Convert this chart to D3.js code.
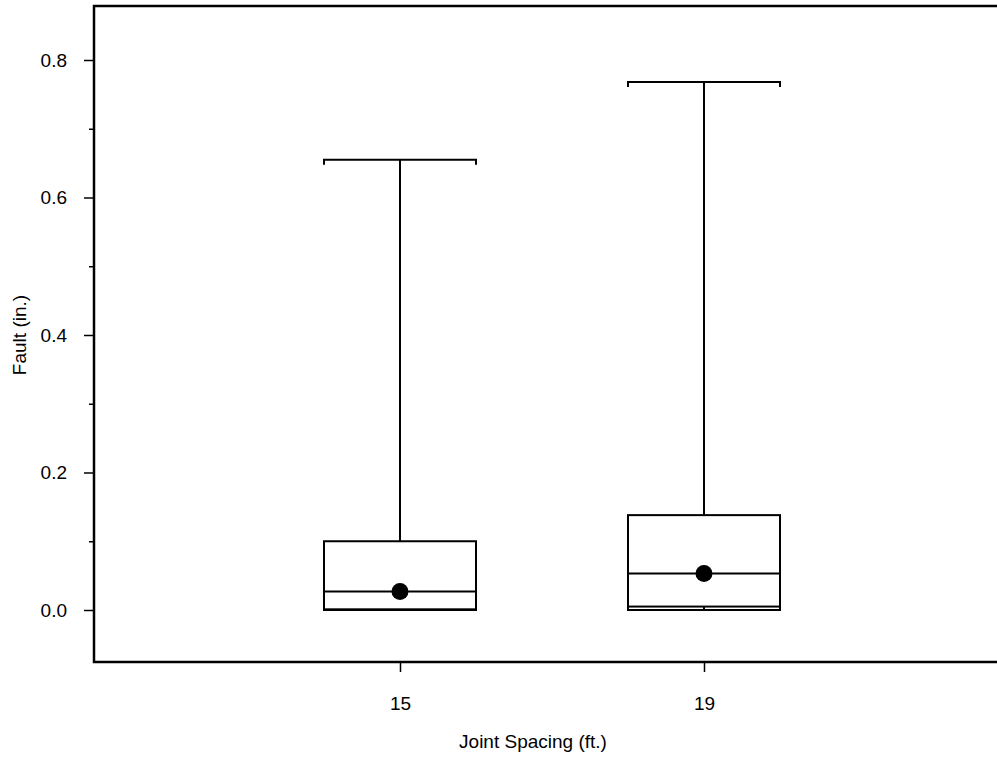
<!DOCTYPE html>
<html>
<head>
<meta charset="utf-8">
<script src="https://cdn.jsdelivr.net/npm/d3@7"></script>
<style>
  html, body { margin: 0; padding: 0; background: #fff; }
  svg { display: block; }
  text { font-family: "Liberation Sans", Arial, sans-serif; fill: #000; }
</style>
</head>
<body>
<svg id="chart" width="997" height="757"></svg>
<script>
const categories = ["15", "19"];
const whiskerMax = [0.655, 0.768];
const q3Values = [0.100, 0.138];
const medianValues = [0.027, 0.053];
const meanValues = [0.027, 0.053];
const q1Values = [0.001, 0.005];
const whiskerMin = [0.0, 0.0];
const yTicks = [0.0, 0.2, 0.4, 0.6, 0.8];
const yMinorTicks = [0.1, 0.3, 0.5, 0.7];

const svg = d3.select("#chart");
const frameLeft = 94, frameRight = 997, frameTop = 6, frameBottom = 662;
const fontSize = 19;

const y = d3.scaleLinear().domain([0, 0.8]).range([610, 60]);
const x = d3.scaleLinear().domain([0, 1]).range([400, 704]);
const boxHalf = 76;

svg.append("path")
  .attr("d", `M${frameRight},${frameTop}H${frameLeft}V${frameBottom}H${frameRight}`)
  .attr("fill", "none").attr("stroke", "#000").attr("stroke-width", 2.5);

const yAxis = d3.axisLeft(y).tickValues(yTicks).tickFormat(d3.format(".1f"))
  .tickSize(10).tickPadding(17);
const gy = svg.append("g").attr("transform", `translate(${frameLeft},0)`).call(yAxis);
gy.attr("font-size", fontSize).attr("font-family", "Liberation Sans, Arial, sans-serif");
gy.select(".domain").remove();
gy.selectAll(".tick line").attr("stroke", "#000").attr("stroke-width", 1.5);

const yMinor = d3.axisLeft(y).tickValues(yMinorTicks).tickFormat("").tickSize(5);
const gym = svg.append("g").attr("transform", `translate(${frameLeft},0)`).call(yMinor);
gym.select(".domain").remove();
gym.selectAll(".tick line").attr("stroke", "#000").attr("stroke-width", 1.5);

const xAxis = d3.axisBottom(x).tickValues([0, 1]).tickFormat((d, i) => categories[i])
  .tickSize(10).tickPadding(25);
const gx = svg.append("g").attr("transform", `translate(0,${frameBottom})`).call(xAxis);
gx.attr("font-size", fontSize).attr("font-family", "Liberation Sans, Arial, sans-serif");
gx.select(".domain").remove();
gx.selectAll(".tick line").attr("stroke", "#000").attr("stroke-width", 1.5);

svg.append("text").attr("x", 533).attr("y", 748).attr("text-anchor", "middle")
  .attr("font-size", fontSize).text("Joint Spacing (ft.)");
svg.append("text").attr("transform", `translate(26,335) rotate(-90)`)
  .attr("text-anchor", "middle").attr("font-size", fontSize).text("Fault (in.)");

const g = svg.append("g").attr("stroke", "#000").attr("fill", "none");
categories.forEach((c, i) => {
  const cx = x(i);
  const sw = 2;
  g.append("line").attr("x1", cx).attr("x2", cx).attr("y1", y(q3Values[i])).attr("y2", y(whiskerMax[i])).attr("stroke-width", sw);
  g.append("path").attr("d", `M${cx - boxHalf},${y(whiskerMax[i]) + 5}V${y(whiskerMax[i])}H${cx + boxHalf}V${y(whiskerMax[i]) + 5}`).attr("stroke-width", sw);
  g.append("line").attr("x1", cx).attr("x2", cx).attr("y1", y(q1Values[i])).attr("y2", y(whiskerMin[i])).attr("stroke-width", sw);
  g.append("path").attr("d", `M${cx - boxHalf},${y(whiskerMin[i]) - 3}V${y(whiskerMin[i])}H${cx + boxHalf}V${y(whiskerMin[i]) - 3}`).attr("stroke-width", sw);
  g.append("rect").attr("x", cx - boxHalf).attr("width", boxHalf * 2)
    .attr("y", y(q3Values[i])).attr("height", y(q1Values[i]) - y(q3Values[i])).attr("stroke-width", sw);
  g.append("line").attr("x1", cx - boxHalf).attr("x2", cx + boxHalf).attr("y1", y(medianValues[i])).attr("y2", y(medianValues[i])).attr("stroke-width", sw);
  svg.append("circle").attr("cx", cx).attr("cy", y(meanValues[i])).attr("r", 8.5).attr("fill", "#000");
});
</script>
</body>
</html>
